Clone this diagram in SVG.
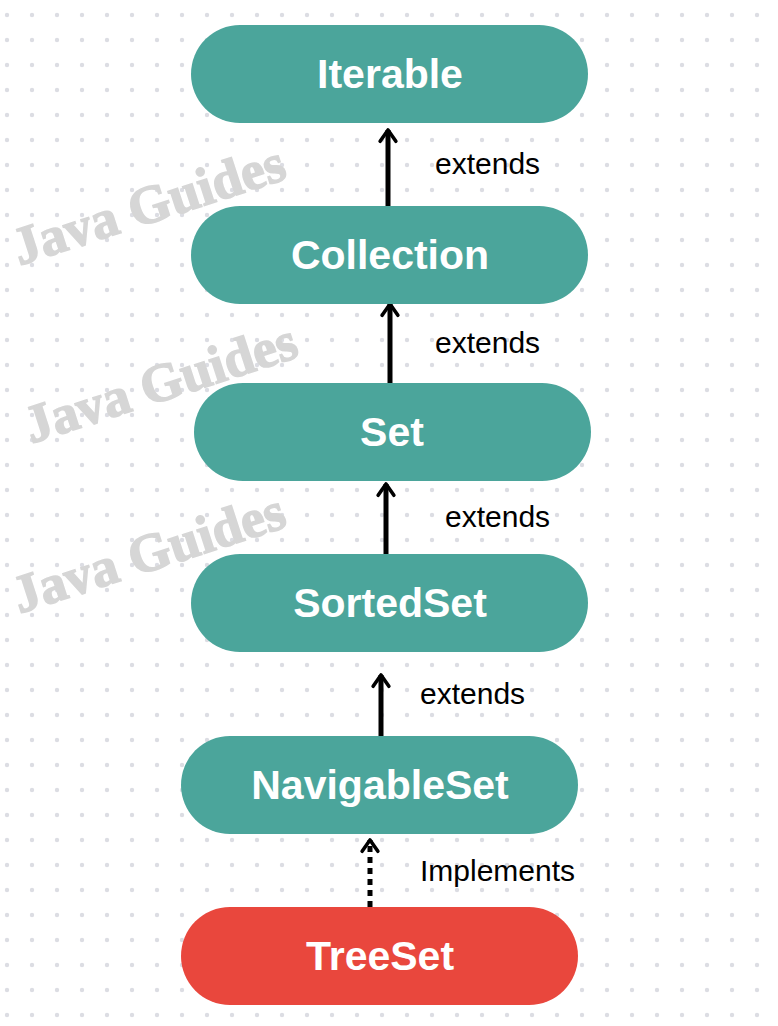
<svg xmlns="http://www.w3.org/2000/svg" width="778" height="1026" viewBox="0 0 778 1026">
<defs>
<pattern id="dots" x="7" y="15" width="25" height="25" patternUnits="userSpaceOnUse"><circle cx="0" cy="0" r="2.2" fill="#dcdde3"/><circle cx="25" cy="0" r="2.2" fill="#dcdde3"/><circle cx="0" cy="25" r="2.2" fill="#dcdde3"/><circle cx="25" cy="25" r="2.2" fill="#dcdde3"/></pattern>
<marker id="ah" viewBox="0 0 10 10" refX="8" refY="5" markerWidth="4.5" markerHeight="4.5" orient="auto" markerUnits="strokeWidth"><path d="M3,1.5 L8,5 L3,8.5" fill="none" stroke="#000" stroke-width="1.6" stroke-linejoin="round" stroke-linecap="round"/></marker>
</defs>
<style>
.n{fill:#4ba59b}.r{fill:#e9473d}
.t{font-family:"Liberation Sans",Arial,sans-serif;font-weight:bold;font-size:41px;fill:#fff;text-anchor:middle}
.l{font-family:"Liberation Sans",Arial,sans-serif;font-size:30px;fill:#000}
.w{font-family:"Liberation Serif","DejaVu Serif",serif;font-weight:900;font-size:54px;fill:#d6d6d6;text-anchor:middle;stroke:#d6d6d6;stroke-width:1.5}
.c{stroke:#000;stroke-width:5;fill:none}
</style>
<rect width="778" height="1026" fill="#fff"/>
<rect width="778" height="1026" fill="url(#dots)"/>
<g id="watermarks">
<text class="w" transform="translate(154,222) rotate(-18)">Java Guides</text>
<text class="w" transform="translate(166,400) rotate(-18)">Java Guides</text>
<text class="w" transform="translate(154,570) rotate(-18)">Java Guides</text>
</g>
<g id="connectors">
<line class="c" x1="388" y1="206" x2="388" y2="130" marker-end="url(#ah)"/>
<line class="c" x1="390" y1="383" x2="390" y2="304" marker-end="url(#ah)"/>
<line class="c" x1="386" y1="554" x2="386" y2="484" marker-end="url(#ah)"/>
<line class="c" x1="381" y1="752" x2="381" y2="675" marker-end="url(#ah)"/>
<line class="c" x1="370" y1="907" x2="370" y2="840" stroke-dasharray="6,5" marker-end="url(#ah)"/>
<text class="l" x="435" y="174">extends</text>
<text class="l" x="435" y="353">extends</text>
<text class="l" x="445" y="527">extends</text>
<text class="l" x="420" y="704">extends</text>
<text class="l" x="420" y="881">Implements</text>
</g>
<g id="iterable"><rect class="n" x="191" y="25" width="397" height="98" rx="49"/><text class="t" x="390" y="88">Iterable</text></g>
<g id="collection"><rect class="n" x="191" y="206" width="397" height="98" rx="49"/><text class="t" x="390" y="269">Collection</text></g>
<g id="set"><rect class="n" x="194" y="383" width="397" height="98" rx="49"/><text class="t" x="392" y="446">Set</text></g>
<g id="sortedset"><rect class="n" x="191" y="554" width="397" height="98" rx="49"/><text class="t" x="390" y="617">SortedSet</text></g>
<g id="navigableset"><rect class="n" x="181" y="736" width="397" height="98" rx="49"/><text class="t" x="380" y="799">NavigableSet</text></g>
<g id="treeset"><rect class="r" x="181" y="907" width="397" height="98" rx="49"/><text class="t" x="380" y="970">TreeSet</text></g>
</svg>
